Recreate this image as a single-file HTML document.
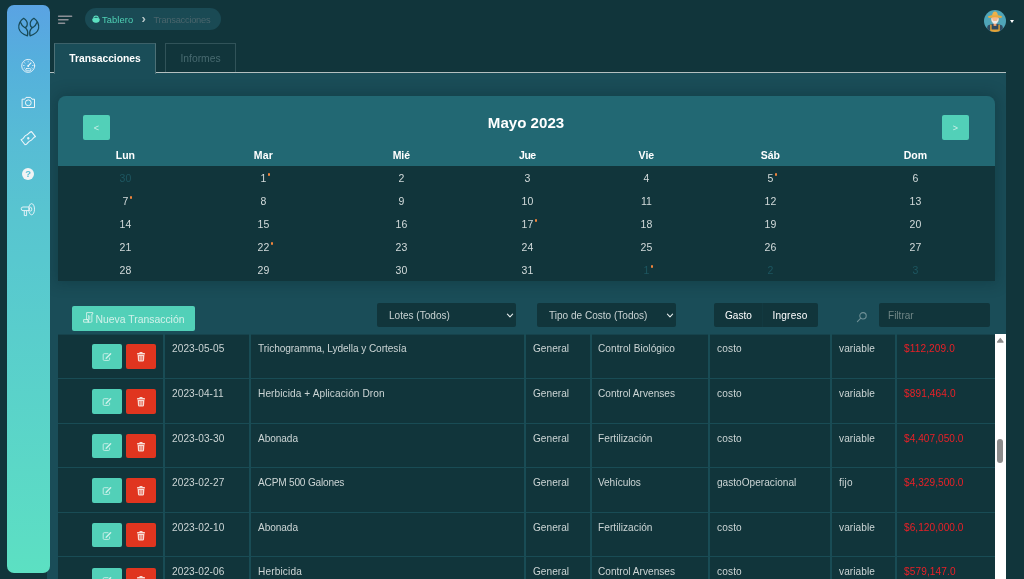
<!DOCTYPE html>
<html lang="es">
<head>
<meta charset="utf-8">
<title>Transacciones</title>
<style>
*{box-sizing:border-box;margin:0;padding:0}
html,body{width:1024px;height:579px;overflow:hidden;background:#11353b;font-family:"Liberation Sans",sans-serif;color:#e3e9e9}
body{position:relative}
#side{position:absolute;left:7.2px;top:4.9px;width:43.3px;height:568.1px;z-index:5;border-radius:7px;background:linear-gradient(180deg,rgb(90,163,227) 0.0%,rgb(85,176,220) 10.6%,rgb(87,188,213) 23.8%,rgb(88,196,208) 36.1%,rgb(88,200,207) 44.9%,rgb(92,221,196) 94.2%,rgb(92,224,194) 100.0%)}
#side svg{position:absolute;left:0;top:0}
#panel{position:absolute;left:47px;top:73px;width:959px;height:506px;background:#1a4d58}
#tabline{position:absolute;left:50px;top:72px;width:956px;height:1px;background:#b4c0c0}
.tab{position:absolute;top:43px;font-size:10.3px;text-align:center;line-height:29px}
#tab1{left:54px;width:102px;background:#1a4d58;border:1px solid #4d7076;border-top-color:#3c6169;border-bottom:none;color:#fff;font-weight:bold;height:31px}
#tab2{left:165px;width:71px;border:1px solid #315359;border-bottom:none;color:#486a70;height:29px}
#crumb{position:absolute;left:84.5px;top:7.7px;width:136.5px;height:22.7px;border-radius:11.4px;background:#1a4a54;font-size:9.3px;line-height:24.4px}
#crumb span{position:absolute;top:0;white-space:nowrap}
#caret{position:absolute;left:1009.6px;top:19.5px;width:0;height:0;border-left:2.8px solid transparent;border-right:2.8px solid transparent;border-top:3.5px solid #fff}
#cal{position:absolute;left:58px;top:96px;width:937px;height:185px;background:#226873;border-radius:8px 8px 0 0;overflow:hidden}
#shclip{position:absolute;left:50px;top:73px;width:956px;height:261px;overflow:hidden}
#calsh{position:absolute;left:8px;top:23px;width:937px;height:185px;border-radius:8px 8px 0 0;box-shadow:0 0 14px 3px rgba(4,30,36,0.26)}
#calbody{position:absolute;left:0;top:70px;width:937px;height:115px;background:#11353b}
.cbtn{position:absolute;top:19px;width:27px;height:25px;border-radius:2px;background:#52d0b8;color:#cdf1e9;font-size:9px;line-height:26px;text-align:center}
#caltitle{position:absolute;left:-1px;top:16px;width:938px;text-align:center;font-size:15.1px;font-weight:bold;color:#fff;line-height:22px}
.wd,.d{position:absolute;width:60px;text-align:center;margin-left:-30px;white-space:nowrap}
.wd{top:52px;font-size:10.5px;font-weight:bold;color:#fff;line-height:14px}
.d{font-size:10.5px;color:#d3dbdb;line-height:14px}
.d.o{color:#1d5660}
.dot{position:absolute;width:2.6px;height:2.6px;border-radius:50%;background:#f0843c}
#newbtn{position:absolute;left:72px;top:306px;width:123px;height:25px;border-radius:2px;background:#52d0b8;color:#d2f1ea;font-size:10.4px;line-height:28px;white-space:nowrap}
.sel{position:absolute;top:303px;height:24px;border-radius:2px;background:#11353b;color:#c9d3d3;font-size:10.05px;line-height:26px;white-space:nowrap}
.sel span{position:absolute;top:0}
#tbl{position:absolute;left:58px;top:334px;width:937px;height:245px;background:#11353b;overflow:hidden}
.hl{position:absolute;left:0;width:937px;height:1px;background:#194c55}
.vl{position:absolute;top:0;width:2px;height:245px;background:#194c55}
.c{position:absolute;font-size:10.1px;line-height:14px;color:#ccd5d5;white-space:nowrap}
.c.r{color:#ea2027}
.eb,.db{position:absolute;width:30px;height:24px;border-radius:2px}
.eb{left:34px;background:#52d0b8}
.db{left:68px;background:#e0351f}
#sb{position:absolute;left:995px;top:334px;width:11px;height:245px;background:#fff}
#sbthumb{position:absolute;left:997px;top:439px;width:6px;height:24px;border-radius:3px;background:#8c8c8c}
</style>
</head>
<body>
<div id="side"><svg style="position:absolute;left:1px;top:3px" width="42" height="42" viewBox="0 0 579 579" ><g fill="none" stroke="#184a57" stroke-width="17" stroke-linecap="round" stroke-linejoin="round"><path d="M215,142 C172,168 138,228 150,282 C165,340 220,370 268,385 C277,350 276,318 256,292 C246,278 236,271 228,268 M215,142 C250,165 270,200 265,230 C262,255 245,270 228,268 C206,258 186,232 176,203"/><path d="M 357,142 C 400,168 434,228 422,282 C 407,340 352,370 304,385 C 295,350 296,318 316,292 C 326,278 336,271 344,268 M 357,142 C 322,165 302,200 307,230 C 310,255 327,270 344,268 C 366,258 386,232 396,203"/></g></svg><svg style="position:absolute;left:13px;top:53px" width="16" height="16" viewBox="-8 -8 16 16" ><g fill="none" stroke="#eef6fa" stroke-width="0.9" stroke-linecap="round"><circle cx="0.2" cy="-0.1" r="6.5"/><path d="M0.2,-0.1 L3,-3.2" stroke-width="1.1"/><circle cx="0.2" cy="0" r="0.9" fill="#eef6fa" stroke="none"/><rect x="-2.4" y="2.6" width="5.2" height="2.2" rx="1"/><path d="M-4.6,-0.5h0.8 M-3.5,-3.3l0.6,0.6 M0.2,-4.9v0.8 M4.4,-0.5h0.8 M-3.9,2.3l0.6,-0.4 M4.3,2.3l-0.6,-0.4" stroke-width="0.7"/></g></svg><svg style="position:absolute;left:13px;top:90px" width="17" height="15" viewBox="0 0 17 15" ><g fill="none" stroke="#eef6fa" stroke-width="1" stroke-linejoin="round"><path d="M2.1,4.2 h2.6 l1.3,-1.8 h4.6 l1.3,1.8 h2.6 v8.3 h-12.4 z"/><circle cx="8.3" cy="7.8" r="2.9"/></g></svg><svg style="position:absolute;left:12px;top:124px" width="18" height="18" viewBox="-9 -9 18 18" ><g fill="none" stroke="#eef6fa" stroke-width="1.1" stroke-linejoin="round" transform="translate(0.3,0.2) rotate(-38)"><path d="M-6.6,-3.2 C-3.5,-1.8 -1,-4.6 0,-3.8 C2,-2.4 4.5,-4.6 6.6,-3.2 V3.2 C4.5,1.8 2,4.4 0,3.2 C-2,2.2 -4.5,4.6 -6.6,3.2 Z"/><circle cx="0" cy="0" r="1.2" fill="#eef6fa" stroke="none"/></g></svg><div style="position:absolute;left:15px;top:163px;width:12px;height:12px;border-radius:50%;background:#f1f3f4;color:#58c0d6;font-size:9.5px;font-weight:bold;line-height:12.5px;text-align:center">?</div><svg style="position:absolute;left:13px;top:197px" width="17" height="17" viewBox="0 0 17 17" ><g fill="none" stroke="#eef6fa" stroke-width="0.9" stroke-linejoin="round"><ellipse cx="11.6" cy="7.2" rx="2.9" ry="5.6"/><ellipse cx="10.6" cy="7.2" rx="1.2" ry="1.9"/><path d="M9.3,5 H3 a1.5,1.5 0 0 0 0,3.6 H9.3 M4.3,8.6 V13.6 H6.6 V8.6"/></g></svg></div>
<svg id="burger" style="position:absolute;left:56px;top:12px" width="20" height="16" viewBox="56 12 20 16"><g stroke="#8c9096" stroke-width="1.5" stroke-linecap="round"><path d="M58.6,16.2H71.6M58.6,19.8H68M58.6,23.35H64.6"/></g></svg>
<div id="crumb"><svg style="position:absolute;left:7.5px;top:7.4px" width="8" height="8" viewBox="0 0 9 9" ><g fill="#5ce0c1"><path d="M0.3,5.2 Q0.3,3.6 1.9,3.6 H7.1 Q8.7,3.6 8.7,5.2 Q8.7,8.6 5.6,8.6 H3.4 Q0.3,8.6 0.3,5.2 Z"/><path d="M1.5,4.4 V2.8 Q1.5,0.5 4.5,0.5 Q7.5,0.5 7.5,2.8 V4.4 Z"/></g><path d="M2.6,2.9 Q2.6,2.1 3.6,2.1 H5.4 Q6.4,2.1 6.4,2.9 V3.4 H2.6 Z" fill="#1a4a54" opacity="0.75"/></svg><span style="left:17.4px;color:#4fd1b5;letter-spacing:0.15px">Tablero</span><span style="left:57.1px;top:-0.4px;color:#b9c7c8;font-size:13px;font-weight:bold">›</span><span style="left:69px;color:#4a656c;letter-spacing:-0.25px">Transacciones</span></div>
<svg style="position:absolute;left:984px;top:10px" width="22" height="22" viewBox="0 0 22 22" ><defs><clipPath id="av"><circle cx="11" cy="11" r="11"/></clipPath></defs><g clip-path="url(#av)"><rect width="22" height="22" fill="#4fa5b8"/><path d="M3.2,22 V17.2 Q3.2,15.2 5.6,14.8 L9,14 H13 L16.4,14.8 Q18.8,15.2 18.8,17.2 V22 Z" fill="#2f4a60"/><path d="M6.2,14.7 H7.6 V19.6 H14.4 V14.7 H15.8 V22 H6.2 Z" fill="#e3a336"/><rect x="9.6" y="12.5" width="2.8" height="3.4" fill="#ef9f6e"/><rect x="7.4" y="5.8" width="7.2" height="7.2" rx="3.2" fill="#f4b78c"/><path d="M7.3,8.2 Q7.3,11.5 9.2,13.2 Q11,14.4 12.8,13.2 Q14.7,11.5 14.7,8.2 L13.8,8.4 Q13.6,10.6 12.4,10.9 H9.6 Q8.4,10.6 8.2,8.4 Z" fill="#e9e9e9"/><path d="M4,6.2 Q11,3.8 18,6.2 Q18.2,7.6 16.6,8 Q11,6.4 5.4,8 Q3.8,7.6 4,6.2 Z" fill="#e8a93c"/><path d="M8,5.4 Q8.6,1.6 11,1.6 Q13.4,1.6 14,5.4 Z" fill="#eeb148"/></g></svg><div id="caret"></div>
<div id="tabline"></div><div id="panel"></div>
<div class="tab" id="tab1">Transacciones</div><div class="tab" id="tab2">Informes</div>
<div id="shclip"><div id="calsh"></div></div><div id="cal"><div class="cbtn" style="left:25px">&lt;</div><div class="cbtn" style="left:884px">&gt;</div><div id="caltitle">Mayo 2023</div><div id="calbody"></div><div class="wd" style="left:67.4px">Lun</div><div class="wd" style="left:205.4px;letter-spacing:0.2px">Mar</div><div class="wd" style="left:343.4px">Mié</div><div class="wd" style="left:469.4px;letter-spacing:-0.5px">Jue</div><div class="wd" style="left:588.4px">Vie</div><div class="wd" style="left:712.4px">Sáb</div><div class="wd" style="left:857.4px">Dom</div><div class="d o" style="left:67.4px;top:75px">30</div><div class="d" style="left:205.4px;top:75px">1</div><div class="dot" style="left:209.9px;top:77.0px"></div><div class="d" style="left:343.4px;top:75px">2</div><div class="d" style="left:469.4px;top:75px">3</div><div class="d" style="left:588.4px;top:75px">4</div><div class="d" style="left:712.4px;top:75px">5</div><div class="dot" style="left:716.9px;top:77.0px"></div><div class="d" style="left:857.4px;top:75px">6</div><div class="d" style="left:67.4px;top:98px">7</div><div class="dot" style="left:71.9px;top:100.0px"></div><div class="d" style="left:205.4px;top:98px">8</div><div class="d" style="left:343.4px;top:98px">9</div><div class="d" style="left:469.4px;top:98px">10</div><div class="d" style="left:588.4px;top:98px">11</div><div class="d" style="left:712.4px;top:98px">12</div><div class="d" style="left:857.4px;top:98px">13</div><div class="d" style="left:67.4px;top:121px">14</div><div class="d" style="left:205.4px;top:121px">15</div><div class="d" style="left:343.4px;top:121px">16</div><div class="d" style="left:469.4px;top:121px">17</div><div class="dot" style="left:476.9px;top:123.0px"></div><div class="d" style="left:588.4px;top:121px">18</div><div class="d" style="left:712.4px;top:121px">19</div><div class="d" style="left:857.4px;top:121px">20</div><div class="d" style="left:67.4px;top:144px">21</div><div class="d" style="left:205.4px;top:144px">22</div><div class="dot" style="left:212.9px;top:146.0px"></div><div class="d" style="left:343.4px;top:144px">23</div><div class="d" style="left:469.4px;top:144px">24</div><div class="d" style="left:588.4px;top:144px">25</div><div class="d" style="left:712.4px;top:144px">26</div><div class="d" style="left:857.4px;top:144px">27</div><div class="d" style="left:67.4px;top:167px">28</div><div class="d" style="left:205.4px;top:167px">29</div><div class="d" style="left:343.4px;top:167px">30</div><div class="d" style="left:469.4px;top:167px">31</div><div class="d o" style="left:588.4px;top:167px">1</div><div class="dot" style="left:592.9px;top:169.0px"></div><div class="d o" style="left:712.4px;top:167px">2</div><div class="d o" style="left:857.4px;top:167px">3</div></div>
<div id="newbtn"><svg style="position:absolute;left:10.5px;top:6px" width="11" height="11" viewBox="0 0 11 11" ><g fill="none" stroke="#e4f7f2" stroke-width="0.8" stroke-linejoin="round"><path d="M3.6,0.6 H9.8 V2 H8.9 V9.4 Q8.9,10.2 8,10.2 H5 V7.6 H3.6 Z"/><rect x="0.6" y="7.6" width="4.8" height="2.6"/><path d="M5.6,3 V7 M6.8,3.6 V8" stroke-width="0.7"/></g></svg><span style="position:absolute;left:23.5px;top:0">Nueva Transacción</span></div>
<div class="sel" style="left:377px;width:139px"><span style="left:12px">Lotes (Todos)</span><svg style="position:absolute;left:129.2px;top:8.7px" width="8" height="7" viewBox="0 0 8 7" ><path d="M1.4,2.2 L4,4.8 L6.6,2.2" fill="none" stroke="#e6eded" stroke-width="1.1" stroke-linecap="round" stroke-linejoin="round"/></svg></div>
<div class="sel" style="left:537px;width:139px"><span style="left:12px">Tipo de Costo (Todos)</span><svg style="position:absolute;left:129.2px;top:8.7px" width="8" height="7" viewBox="0 0 8 7" ><path d="M1.4,2.2 L4,4.8 L6.6,2.2" fill="none" stroke="#e6eded" stroke-width="1.1" stroke-linecap="round" stroke-linejoin="round"/></svg></div>
<div class="sel" style="left:714px;width:104px;color:#fff"><span style="left:11px">Gasto</span><span style="left:58.4px;letter-spacing:0.25px">Ingreso</span><i style="position:absolute;left:48px;top:0;width:1px;height:24px;background:#123940"></i></div>
<svg style="position:absolute;left:856px;top:311px" width="12" height="12" viewBox="0 0 12 12" ><g fill="none" stroke="#6f9096" stroke-width="1.1" stroke-linecap="round"><circle cx="7" cy="4.8" r="3.2"/><path d="M4.8,7.2 L1.4,10.6"/></g></svg><div class="sel" style="left:879px;width:111px;color:#6f8585"><span style="left:9px">Filtrar</span></div>
<div id="tbl"><div class="hl" style="top:0;background:#16434c"></div><div class="vl" style="left:105px"></div><div class="vl" style="left:191px"></div><div class="vl" style="left:466px"></div><div class="vl" style="left:532px"></div><div class="vl" style="left:650px"></div><div class="vl" style="left:772px"></div><div class="vl" style="left:837px"></div><div class="eb" style="top:10px;height:25px"><svg style="position:absolute;left:10px;top:7.5px" width="10" height="10" viewBox="0 0 10 10" ><g fill="none" stroke="#cdf1ea" stroke-width="0.9" stroke-linejoin="round" stroke-linecap="round"><path d="M6,1.7 H2.2 Q1.2,1.7 1.2,2.7 V7.4 Q1.2,8.4 2.2,8.4 H6.6 Q7.6,8.4 7.6,7.4 V6"/><path d="M4.2,6.2 L8.6,1.8" stroke-width="1.5"/></g></svg></div><div class="db" style="top:10px;height:25px"><svg style="position:absolute;left:10px;top:7px" width="10" height="12" viewBox="0 0 10 12" ><g fill="#f8dcd6"><path d="M1,2.6 Q1,1.9 1.8,1.9 H3.2 Q3.4,1 4.2,1 H5.8 Q6.6,1 6.8,1.9 H8.2 Q9,1.9 9,2.6 V3.4 H1 Z"/><path d="M1.6,4 H8.4 L8,9.6 Q7.9,10.4 7.1,10.4 H2.9 Q2.1,10.4 2,9.6 Z"/></g><g stroke="#e0351f" stroke-width="0.6"><path d="M3.6,5 V9.4 M5,5 V9.4 M6.4,5 V9.4"/></g></svg></div><div class="c" style="left:114px;top:8px;letter-spacing:0.08px">2023-05-05</div><div class="c" style="left:200px;top:8px;letter-spacing:-0.07px">Trichogramma, Lydella y Cortesía</div><div class="c" style="left:475px;top:8px;letter-spacing:0.02px">General</div><div class="c" style="left:540px;top:8px;letter-spacing:0.04px">Control Biológico</div><div class="c" style="left:659px;top:8px;letter-spacing:0.15px">costo</div><div class="c" style="left:781px;top:8px;letter-spacing:0.09px">variable</div><div class="c r" style="left:846px;top:8px;letter-spacing:0.12px">$112,209.0</div><div class="hl" style="top:44.3px"></div><div class="eb" style="top:55px;height:25px"><svg style="position:absolute;left:10px;top:7.5px" width="10" height="10" viewBox="0 0 10 10" ><g fill="none" stroke="#cdf1ea" stroke-width="0.9" stroke-linejoin="round" stroke-linecap="round"><path d="M6,1.7 H2.2 Q1.2,1.7 1.2,2.7 V7.4 Q1.2,8.4 2.2,8.4 H6.6 Q7.6,8.4 7.6,7.4 V6"/><path d="M4.2,6.2 L8.6,1.8" stroke-width="1.5"/></g></svg></div><div class="db" style="top:55px;height:25px"><svg style="position:absolute;left:10px;top:7px" width="10" height="12" viewBox="0 0 10 12" ><g fill="#f8dcd6"><path d="M1,2.6 Q1,1.9 1.8,1.9 H3.2 Q3.4,1 4.2,1 H5.8 Q6.6,1 6.8,1.9 H8.2 Q9,1.9 9,2.6 V3.4 H1 Z"/><path d="M1.6,4 H8.4 L8,9.6 Q7.9,10.4 7.1,10.4 H2.9 Q2.1,10.4 2,9.6 Z"/></g><g stroke="#e0351f" stroke-width="0.6"><path d="M3.6,5 V9.4 M5,5 V9.4 M6.4,5 V9.4"/></g></svg></div><div class="c" style="left:114px;top:53px;letter-spacing:0.08px">2023-04-11</div><div class="c" style="left:200px;top:53px;letter-spacing:0.09px">Herbicida + Aplicación Dron</div><div class="c" style="left:475px;top:53px;letter-spacing:0.02px">General</div><div class="c" style="left:540px;top:53px;letter-spacing:0.01px">Control Arvenses</div><div class="c" style="left:659px;top:53px;letter-spacing:0.15px">costo</div><div class="c" style="left:781px;top:53px;letter-spacing:0.09px">variable</div><div class="c r" style="left:846px;top:53px;letter-spacing:0.12px">$891,464.0</div><div class="hl" style="top:88.8px"></div><div class="eb" style="top:100px;height:24px"><svg style="position:absolute;left:10px;top:7.5px" width="10" height="10" viewBox="0 0 10 10" ><g fill="none" stroke="#cdf1ea" stroke-width="0.9" stroke-linejoin="round" stroke-linecap="round"><path d="M6,1.7 H2.2 Q1.2,1.7 1.2,2.7 V7.4 Q1.2,8.4 2.2,8.4 H6.6 Q7.6,8.4 7.6,7.4 V6"/><path d="M4.2,6.2 L8.6,1.8" stroke-width="1.5"/></g></svg></div><div class="db" style="top:100px;height:24px"><svg style="position:absolute;left:10px;top:7px" width="10" height="12" viewBox="0 0 10 12" ><g fill="#f8dcd6"><path d="M1,2.6 Q1,1.9 1.8,1.9 H3.2 Q3.4,1 4.2,1 H5.8 Q6.6,1 6.8,1.9 H8.2 Q9,1.9 9,2.6 V3.4 H1 Z"/><path d="M1.6,4 H8.4 L8,9.6 Q7.9,10.4 7.1,10.4 H2.9 Q2.1,10.4 2,9.6 Z"/></g><g stroke="#e0351f" stroke-width="0.6"><path d="M3.6,5 V9.4 M5,5 V9.4 M6.4,5 V9.4"/></g></svg></div><div class="c" style="left:114px;top:98px;letter-spacing:0.08px">2023-03-30</div><div class="c" style="left:200px;top:98px;letter-spacing:-0.07px">Abonada</div><div class="c" style="left:475px;top:98px;letter-spacing:0.02px">General</div><div class="c" style="left:540px;top:98px;letter-spacing:0.05px">Fertilización</div><div class="c" style="left:659px;top:98px;letter-spacing:0.15px">costo</div><div class="c" style="left:781px;top:98px;letter-spacing:0.09px">variable</div><div class="c r" style="left:846px;top:98px;letter-spacing:0.05px">$4,407,050.0</div><div class="hl" style="top:133.3px"></div><div class="eb" style="top:144px;height:25px"><svg style="position:absolute;left:10px;top:7.5px" width="10" height="10" viewBox="0 0 10 10" ><g fill="none" stroke="#cdf1ea" stroke-width="0.9" stroke-linejoin="round" stroke-linecap="round"><path d="M6,1.7 H2.2 Q1.2,1.7 1.2,2.7 V7.4 Q1.2,8.4 2.2,8.4 H6.6 Q7.6,8.4 7.6,7.4 V6"/><path d="M4.2,6.2 L8.6,1.8" stroke-width="1.5"/></g></svg></div><div class="db" style="top:144px;height:25px"><svg style="position:absolute;left:10px;top:7px" width="10" height="12" viewBox="0 0 10 12" ><g fill="#f8dcd6"><path d="M1,2.6 Q1,1.9 1.8,1.9 H3.2 Q3.4,1 4.2,1 H5.8 Q6.6,1 6.8,1.9 H8.2 Q9,1.9 9,2.6 V3.4 H1 Z"/><path d="M1.6,4 H8.4 L8,9.6 Q7.9,10.4 7.1,10.4 H2.9 Q2.1,10.4 2,9.6 Z"/></g><g stroke="#e0351f" stroke-width="0.6"><path d="M3.6,5 V9.4 M5,5 V9.4 M6.4,5 V9.4"/></g></svg></div><div class="c" style="left:114px;top:142px;letter-spacing:0.08px">2023-02-27</div><div class="c" style="left:200px;top:142px;letter-spacing:-0.19px">ACPM 500 Galones</div><div class="c" style="left:475px;top:142px;letter-spacing:0.02px">General</div><div class="c" style="left:540px;top:142px;letter-spacing:-0.11px">Vehículos</div><div class="c" style="left:659px;top:142px;letter-spacing:0.01px">gastoOperacional</div><div class="c" style="left:781px;top:142px;letter-spacing:0.2px">fijo</div><div class="c r" style="left:846px;top:142px;letter-spacing:0.05px">$4,329,500.0</div><div class="hl" style="top:177.8px"></div><div class="eb" style="top:189px;height:24px"><svg style="position:absolute;left:10px;top:7.5px" width="10" height="10" viewBox="0 0 10 10" ><g fill="none" stroke="#cdf1ea" stroke-width="0.9" stroke-linejoin="round" stroke-linecap="round"><path d="M6,1.7 H2.2 Q1.2,1.7 1.2,2.7 V7.4 Q1.2,8.4 2.2,8.4 H6.6 Q7.6,8.4 7.6,7.4 V6"/><path d="M4.2,6.2 L8.6,1.8" stroke-width="1.5"/></g></svg></div><div class="db" style="top:189px;height:24px"><svg style="position:absolute;left:10px;top:7px" width="10" height="12" viewBox="0 0 10 12" ><g fill="#f8dcd6"><path d="M1,2.6 Q1,1.9 1.8,1.9 H3.2 Q3.4,1 4.2,1 H5.8 Q6.6,1 6.8,1.9 H8.2 Q9,1.9 9,2.6 V3.4 H1 Z"/><path d="M1.6,4 H8.4 L8,9.6 Q7.9,10.4 7.1,10.4 H2.9 Q2.1,10.4 2,9.6 Z"/></g><g stroke="#e0351f" stroke-width="0.6"><path d="M3.6,5 V9.4 M5,5 V9.4 M6.4,5 V9.4"/></g></svg></div><div class="c" style="left:114px;top:187px;letter-spacing:0.08px">2023-02-10</div><div class="c" style="left:200px;top:187px;letter-spacing:-0.07px">Abonada</div><div class="c" style="left:475px;top:187px;letter-spacing:0.02px">General</div><div class="c" style="left:540px;top:187px;letter-spacing:0.05px">Fertilización</div><div class="c" style="left:659px;top:187px;letter-spacing:0.15px">costo</div><div class="c" style="left:781px;top:187px;letter-spacing:0.09px">variable</div><div class="c r" style="left:846px;top:187px;letter-spacing:0.05px">$6,120,000.0</div><div class="hl" style="top:222.3px"></div><div class="eb" style="top:234px;height:25px"><svg style="position:absolute;left:10px;top:7.5px" width="10" height="10" viewBox="0 0 10 10" ><g fill="none" stroke="#cdf1ea" stroke-width="0.9" stroke-linejoin="round" stroke-linecap="round"><path d="M6,1.7 H2.2 Q1.2,1.7 1.2,2.7 V7.4 Q1.2,8.4 2.2,8.4 H6.6 Q7.6,8.4 7.6,7.4 V6"/><path d="M4.2,6.2 L8.6,1.8" stroke-width="1.5"/></g></svg></div><div class="db" style="top:234px;height:25px"><svg style="position:absolute;left:10px;top:7px" width="10" height="12" viewBox="0 0 10 12" ><g fill="#f8dcd6"><path d="M1,2.6 Q1,1.9 1.8,1.9 H3.2 Q3.4,1 4.2,1 H5.8 Q6.6,1 6.8,1.9 H8.2 Q9,1.9 9,2.6 V3.4 H1 Z"/><path d="M1.6,4 H8.4 L8,9.6 Q7.9,10.4 7.1,10.4 H2.9 Q2.1,10.4 2,9.6 Z"/></g><g stroke="#e0351f" stroke-width="0.6"><path d="M3.6,5 V9.4 M5,5 V9.4 M6.4,5 V9.4"/></g></svg></div><div class="c" style="left:114px;top:231px;letter-spacing:0.08px">2023-02-06</div><div class="c" style="left:200px;top:231px;letter-spacing:0.14px">Herbicida</div><div class="c" style="left:475px;top:231px;letter-spacing:0.02px">General</div><div class="c" style="left:540px;top:231px;letter-spacing:0.01px">Control Arvenses</div><div class="c" style="left:659px;top:231px;letter-spacing:0.15px">costo</div><div class="c" style="left:781px;top:231px;letter-spacing:0.09px">variable</div><div class="c r" style="left:846px;top:231px;letter-spacing:0.12px">$579,147.0</div></div>
<div id="sb"></div><div id="sbthumb"></div><svg style="position:absolute;left:995px;top:334px" width="11" height="12" viewBox="995 334 11 12"><path d="M997.5,342.1 L1000.3,338.5 L1003.1,342.1 Z" fill="#8b8b8b" stroke="#8b8b8b" stroke-width="1.2" stroke-linejoin="round"/></svg>
</body>
</html>
